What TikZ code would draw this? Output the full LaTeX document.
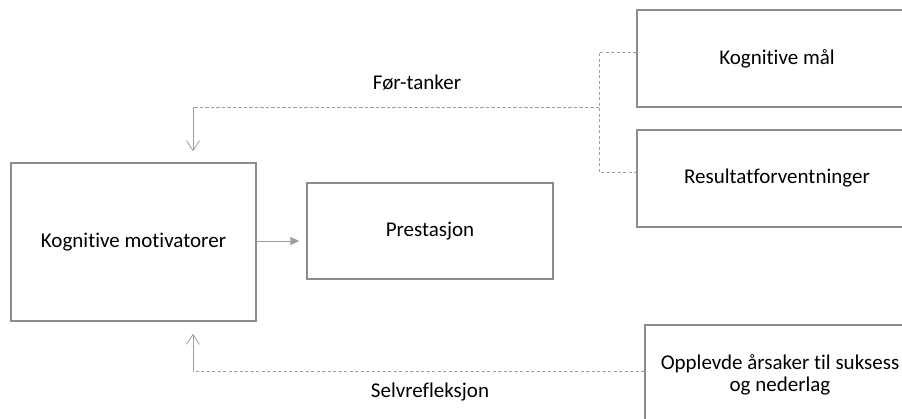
\documentclass[tikz,border=0pt]{standalone}
\usepackage{fontspec}
\setmainfont{Carlito}[Ligatures={NoCommon}]
\usepackage{tikz}
\usetikzlibrary{arrows.meta}

\begin{document}
\begin{tikzpicture}[x=1pt,y=-1pt,
  boks/.style={draw=black!45,line width=1.3pt,text=black,align=center,
    font=\fontsize{21}{21.5}\selectfont,inner sep=0pt},
  heltrukket/.style={draw=black!38,line width=0.8pt},
  stiplet/.style={draw=black!38,line width=0.8pt,dash pattern=on 3.3pt off 2.2pt},
  etikett/.style={text=black,font=\fontsize{21}{23}\selectfont}]
 \useasboundingbox (0,0) rectangle (902,418);
 \def\xv{193} % x for the two feedback lines
 \def\yt{107} % top feedback line
 \def\yb{371} % bottom feedback line
 \node[boks,minimum width=245pt,minimum height=158pt] (motiv) at (133.5,242) {\raisebox{-3pt}{Kognitive motivatorer}};
 \node[boks,minimum width=246pt,minimum height=96pt] (prest) at (430,231) {\raisebox{-2pt}{Prestasjon}};
 \node[boks,minimum width=280pt,minimum height=97pt] (maal) at (777,58.5) {\raisebox{-3pt}{Kognitive mål}};
 \node[boks,minimum width=280pt,minimum height=97pt] (resultat) at (777,178.5) {\raisebox{-2pt}{Resultatforventninger}};
 \node[boks,minimum width=270pt,minimum height=100pt] (aarsak) at (780,375) {Opplevde årsaker til suksess\\og nederlag};
 \coordinate (klamme) at (599,\yt);
 \coordinate (topp) at (\xv,\yt);
 \coordinate (bunn) at (\xv,\yb);
% motivator -> prestasjon
 \draw[heltrukket,-{Triangle[length=9pt,width=8pt]},shorten >=7pt] ([yshift=-10pt]prest.west -| motiv.east) -- ([yshift=-10pt]prest.west);
% for-tanker
 \draw[stiplet] ([yshift=6.5pt]maal.west) -| (klamme) |- ([yshift=6.5pt]resultat.west);
 \draw[stiplet] (klamme) -- (topp);
 \draw[heltrukket,-{Straight Barb[length=10pt,width=13pt]},shorten >=11pt] (topp) -- (topp |- motiv.north);
 \node[etikett] (fortanker) at (417,83) {Før-tanker};
% selvrefleksjon
 \draw[stiplet] (aarsak.west |- bunn) -- (bunn);
 \draw[heltrukket,-{Straight Barb[length=10pt,width=13pt]},shorten >=12pt] (bunn) -- (bunn |- motiv.south);
 \node[etikett] (selvref) at (430,392) {Selvrefleksjon};
\end{tikzpicture}
\end{document}
